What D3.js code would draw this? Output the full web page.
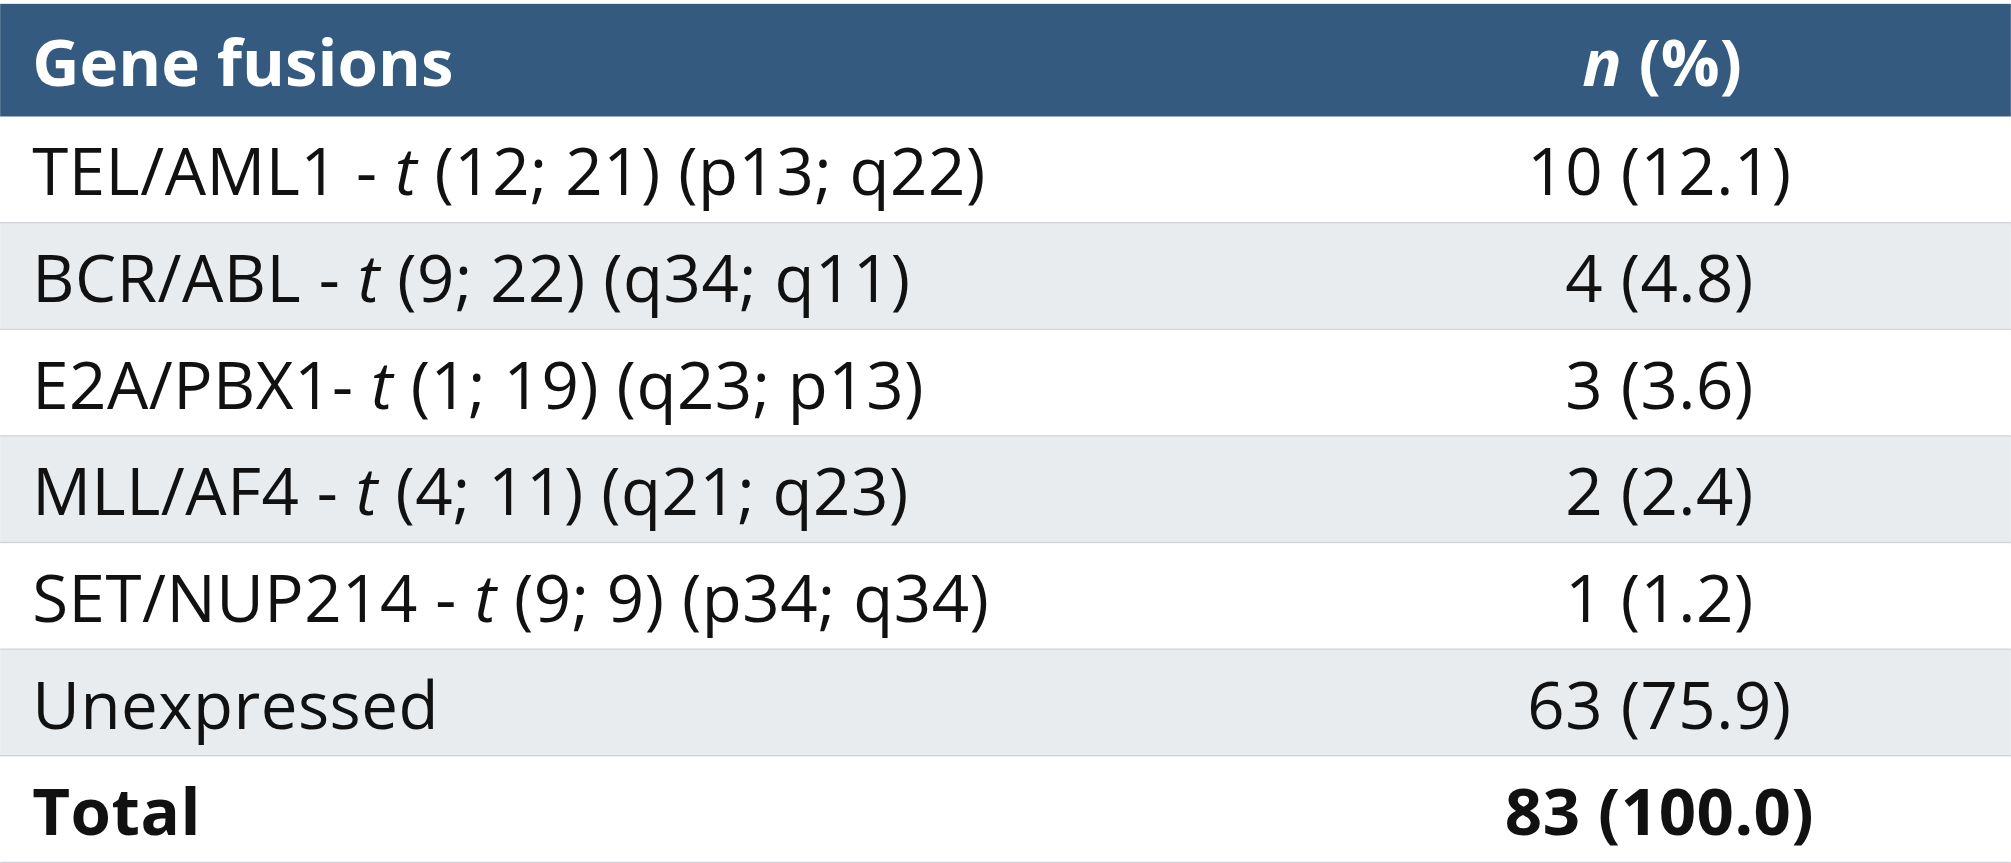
<!DOCTYPE html>
<html><head><meta charset="utf-8">
<script src="https://cdn.jsdelivr.net/npm/d3@7"></script>
<style>body{margin:0;background:#fff}svg{display:block}</style>
</head><body>
<script>
const headers = ["Gene fusions", "n (%)"];
const genes = ["TEL/AML1 - ", "BCR/ABL - ", "E2A/PBX1- ", "MLL/AF4 - ", "SET/NUP214 - ", "Unexpressed", "Total"];
const translocations = ["(12; 21) (p13; q22)", "(9; 22) (q34; q11)", "(1; 19) (q23; p13)", "(4; 11) (q21; q23)", "(9; 9) (p34; q34)", "", ""];
const counts = [10, 4, 3, 2, 1, 63, 83];
const percents = ["12.1", "4.8", "3.6", "2.4", "1.2", "75.9", "100.0"];

const W = 1568, H = 673, FS = 51;
const svg = d3.select("body").append("svg").attr("width", 2011).attr("height", 863)
  .attr("viewBox", `0 0 ${W} ${H}`).style("font-family", "'Open Sans', sans-serif");

const y = d3.scaleBand().domain(d3.range(genes.length)).range([91, 673]).padding(0);
svg.append("rect").attr("x", 0).attr("y", 3).attr("width", W).attr("height", 88).attr("fill", "#345A80");
svg.append("text").attr("x", 25).attr("y", 49).attr("dy", "0.35em").attr("fill", "#fff")
  .attr("font-size", FS).attr("font-weight", 700).text(headers[0]);
const ht = svg.append("text").attr("x", 1296).attr("y", 49).attr("dy", "0.35em").attr("fill", "#fff")
  .attr("text-anchor", "middle").attr("font-size", FS).attr("font-weight", 700);
ht.append("tspan").attr("font-style", "italic").text("n");
ht.append("tspan").text(" (%)");

const rows = svg.selectAll("g.row").data(genes).join("g").attr("class", "row")
  .attr("transform", (d, i) => `translate(0,${y(i)})`);
rows.append("rect").attr("width", W).attr("height", y.bandwidth())
  .attr("fill", (d, i) => i % 2 ? "#E9ECEF" : "#fff");
rows.append("line").attr("x1", 0).attr("x2", W).attr("y1", y.bandwidth()).attr("y2", y.bandwidth())
  .attr("stroke", "#D0D4D8").attr("stroke-width", 2);
const lt = rows.append("text").attr("x", 25).attr("y", y.bandwidth() / 2 + 2).attr("dy", "0.35em")
  .attr("font-size", FS).attr("letter-spacing", 0.4).attr("fill", "#111").attr("font-weight", (d, i) => i === 6 ? 700 : 400);
lt.append("tspan").text(d => d);
lt.append("tspan").attr("font-style", "italic").text((d, i) => translocations[i] ? "t" : "");
lt.append("tspan").text((d, i) => translocations[i] ? " " + translocations[i] : "");
rows.append("text").attr("x", 1294).attr("y", y.bandwidth() / 2 + 2).attr("dy", "0.35em")
  .attr("text-anchor", "middle").attr("font-size", FS).attr("letter-spacing", 0.4).attr("fill", "#111")
  .attr("font-weight", (d, i) => i === 6 ? 700 : 400)
  .text((d, i) => `${counts[i]} (${percents[i]})`);
</script>
</body></html>
